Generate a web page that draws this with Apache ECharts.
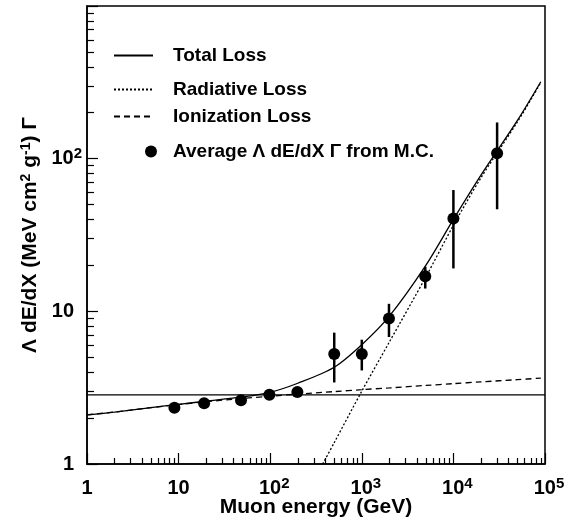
<!DOCTYPE html>
<html>
<head>
<meta charset="utf-8">
<script src="https://cdn.jsdelivr.net/npm/echarts@6/dist/echarts.min.js"></script>
<style>
  html, body { margin: 0; padding: 0; background: #fff; }
  #chart { width: 568px; height: 526px; }
</style>
</head>
<body>
<div id="chart"></div>
<script>
// curves (energy in GeV)
const energyGrid = [1, 2, 5, 10, 20, 50, 100, 200, 500, 1000, 2000, 5000, 10000, 20000, 50000, 90000];
const totalLoss = [2.10, 2.19, 2.34, 2.46, 2.58, 2.75, 2.95, 3.38, 4.30, 6.05, 9.3, 20.0, 40.0, 78, 178, 319];
const ionizationLoss = [2.10, 2.19, 2.34, 2.45, 2.56, 2.69, 2.78, 2.87, 2.98, 3.07, 3.15, 3.27, 3.36, 3.45, 3.57, 3.65];
const radEnergy = [374, 500, 1000, 2000, 5000, 10000, 20000, 50000, 90000];
const radiativeLoss = [1.0, 1.38, 3.0, 6.3, 16.8, 36.6, 75, 174, 315];
const refEnergy = [1, 100000];
const refLevel = [2.84, 2.84];

// Monte Carlo points with error bars
const mcEnergy = [9, 19, 48, 98, 198, 500, 1000, 1980, 4930, 10000, 30000];
const mcValue = [2.34, 2.50, 2.62, 2.84, 2.96, 5.26, 5.26, 8.96, 17.0, 40.6, 108.5];
const mcLow = [2.34, 2.50, 2.62, 2.84, 2.96, 3.42, 4.10, 6.79, 14.1, 19.1, 46.6];
const mcHigh = [2.34, 2.50, 2.62, 2.84, 2.96, 7.25, 6.52, 11.2, 19.6, 62.3, 172.6];

// ticks
const xMajor = [1, 10, 100, 1000, 10000, 100000];
const yMajor = [1, 10, 100, 1000];
const yLabels = [1, 10, 100];

function minorTicks(lo, hi) {
  const out = [];
  for (let d = lo; d < hi; d *= 10) {
    for (let k = 2; k <= 9; k++) out.push(d * k);
  }
  return out;
}
const xMinor = minorTicks(1, 100000);
const yMinor = minorTicks(1, 1000);

const FONT = 'Liberation Sans';
const pairs = (xs, ys) => xs.map((x, i) => [x, ys[i]]);

const supRich = {
  b: { fontFamily: FONT, fontWeight: 'bold', fontSize: 20, color: '#000', lineHeight: 25 },
  s: { fontFamily: FONT, fontWeight: 'bold', fontSize: 15, color: '#000', lineHeight: 15, verticalAlign: 'top' },
  p: { width: 8, lineHeight: 25 }
};
function powLabel(v, side) {
  const e = Math.round(Math.log10(v));
  if (e === 0) return side === 'y' ? '{b|1}{p| }' : '{b|1}';
  if (e === 1) return side === 'y' ? '{b|10}{p| }' : '{b|10}';
  return side === 'y' ? '{b|10}{s|' + e + '}' : '{p| }{b|10}{s|' + e + '}';
}

const legendBase = {
  orient: 'vertical', padding: 0, itemGap: 0, selectedMode: false,
  itemWidth: 39, itemHeight: 14,
  itemStyle: { opacity: 0 },
  textStyle: { fontFamily: FONT, fontWeight: 'bold', fontSize: 19, color: '#000', padding: [0, 0, 0, 15] }
};

const chart = echarts.init(document.getElementById('chart'));
chart.setOption({
  animation: false,
  backgroundColor: '#fff',
  grid: {
    left: 87, right: 23, top: 6, bottom: 62, outerBoundsMode: 'none',
    show: true, borderColor: '#000', borderWidth: 1.5
  },
  legend: [
    Object.assign({}, legendBase, { data: ['Total Loss'], left: 113, top: 46 }),
    Object.assign({}, legendBase, { data: ['Radiative Loss'], left: 113, top: 80 }),
    Object.assign({}, legendBase, { data: ['Ionization Loss'], left: 113, top: 107 }),
    Object.assign({}, legendBase, {
      data: [{ name: 'Average \u039b dE/dX \u0393 from M.C.', icon: 'circle' }],
      left: 145, top: 142, itemWidth: 12, itemHeight: 12,
      itemStyle: { opacity: 1, color: '#000' },
      textStyle: Object.assign({}, legendBase.textStyle, { padding: [0, 0, 0, 11] })
    })
  ],
  xAxis: [
    {
      type: 'log', min: 1, max: 100000,
      name: 'Muon energy (GeV)', nameLocation: 'middle', nameGap: 33, nameMoveOverlap: false,
      nameTextStyle: { fontFamily: FONT, fontWeight: 'bold', fontSize: 21, color: '#000' },
      axisLine: { lineStyle: { color: '#000', width: 1.5 } },
      axisTick: { inside: true, length: 11, customValues: xMajor, lineStyle: { color: '#000', width: 1.2 } },
      axisLabel: { customValues: xMajor, margin: 12, formatter: v => powLabel(v, 'x'), rich: supRich },
      splitLine: { show: false }
    },
    {
      type: 'log', min: 1, max: 100000, position: 'bottom',
      axisLine: { show: false },
      axisTick: { inside: true, length: 6, customValues: xMinor, lineStyle: { color: '#000', width: 1.2 } },
      axisLabel: { show: false },
      splitLine: { show: false }
    }
  ],
  yAxis: [
    {
      type: 'log', min: 1, max: 1000,
      name: '\u039b dE/dX (MeV cm{s|2} g{s|-1}) \u0393', nameLocation: 'middle', nameGap: 45,
      nameTextStyle: {
        fontFamily: FONT, fontWeight: 'bold', fontSize: 21, color: '#000',
        rich: {
          s: { fontFamily: FONT, fontWeight: 'bold', fontSize: 14, color: '#000', verticalAlign: 'top', lineHeight: 14 }
        }
      },
      axisLine: { lineStyle: { color: '#000', width: 1.5 } },
      axisTick: { inside: true, length: 11, customValues: yMajor, lineStyle: { color: '#000', width: 1.2 } },
      axisLabel: { customValues: yLabels, margin: 5, formatter: v => powLabel(v, 'y'), rich: supRich },
      splitLine: { show: false }
    },
    {
      type: 'log', min: 1, max: 1000, position: 'left',
      axisLine: { show: false },
      axisTick: { inside: true, length: 7, customValues: yMinor, lineStyle: { color: '#000', width: 1.2 } },
      axisLabel: { show: false },
      splitLine: { show: false }
    }
  ],
  series: [
    {
      name: 'Total Loss', type: 'line', symbol: 'none', smooth: 0.3,
      data: pairs(energyGrid, totalLoss),
      lineStyle: { color: '#000', width: 1.3 }, itemStyle: { color: '#000' }
    },
    {
      name: 'Radiative Loss', type: 'line', symbol: 'none', smooth: 0.3,
      data: pairs(radEnergy, radiativeLoss),
      lineStyle: { color: '#000', width: 1.3, type: [2, 2] }, itemStyle: { color: '#000' }
    },
    {
      name: 'Ionization Loss', type: 'line', symbol: 'none', smooth: 0.3,
      data: pairs(energyGrid, ionizationLoss),
      lineStyle: { color: '#000', width: 1.3, type: [6, 4] }, itemStyle: { color: '#000' }
    },
    {
      name: 'reference', type: 'line', symbol: 'none',
      data: pairs(refEnergy, refLevel),
      lineStyle: { color: '#000', width: 1.3 }
    },
    {
      name: 'errors', type: 'custom',
      data: mcEnergy.map((x, i) => [x, mcLow[i], mcHigh[i]]),
      encode: { x: 0, y: [1, 2] },
      renderItem: function (params, api) {
        const p1 = api.coord([api.value(0), api.value(1)]);
        const p2 = api.coord([api.value(0), api.value(2)]);
        return {
          type: 'line',
          shape: { x1: p1[0], y1: p1[1], x2: p2[0], y2: p2[1] },
          style: { stroke: '#000', lineWidth: 2.5 }
        };
      }
    },
    {
      name: 'Average \u039b dE/dX \u0393 from M.C.', type: 'scatter',
      symbol: 'circle', symbolSize: 12,
      data: pairs(mcEnergy, mcValue),
      itemStyle: { color: '#000', opacity: 1 }
    }
  ]
});
</script>
</body>
</html>
